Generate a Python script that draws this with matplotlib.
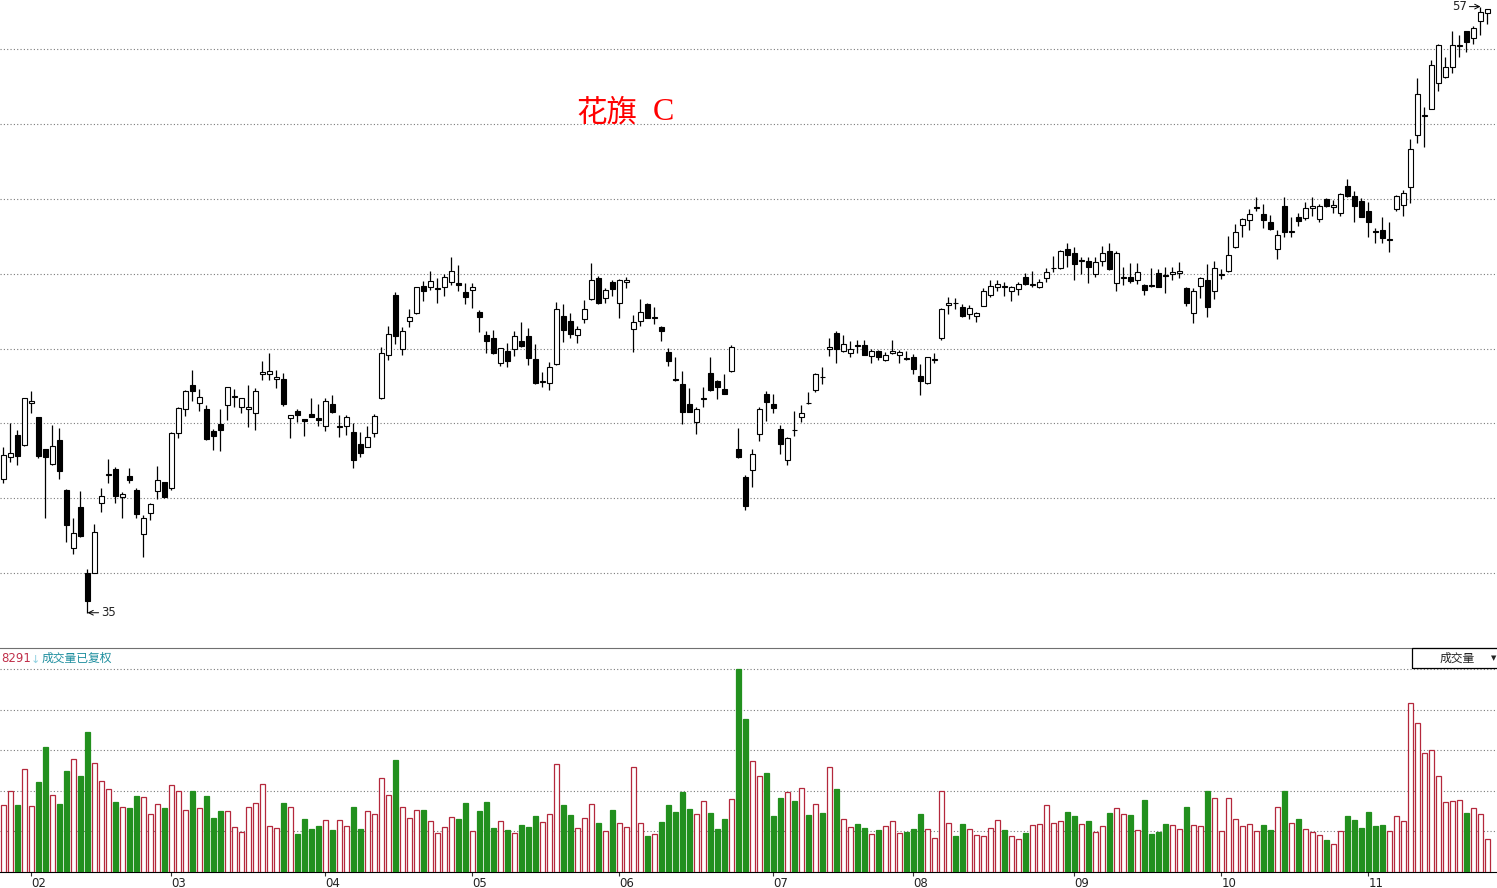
import numpy as np
import matplotlib
matplotlib.use("Agg")
import matplotlib.pyplot as plt
from matplotlib.patches import Rectangle

# daily bars, late Jan .. 25 Nov 2016 (213 sessions)
OPEN = [
    39.85, 40.64, 41.45, 41.09, 42.60, 42.10, 40.94, 40.41, 41.27, 39.47,   # 0
    37.34, 38.85, 36.45, 36.46, 38.97, 40.01, 40.22, 39.19, 39.96, 39.45,   # 10
    37.84, 38.61, 39.41, 39.73, 39.51, 41.51, 42.38, 43.27, 42.60, 42.39,   # 20
    41.60, 41.85, 42.53, 42.84, 42.48, 42.38, 42.24, 43.66, 43.66, 43.48,   # 30
    43.49, 42.06, 42.31, 42.02, 42.22, 42.07, 41.79, 42.58, 41.73, 41.79,   # 40
    41.56, 41.13, 41.03, 41.54, 42.79, 44.35, 46.54, 44.59, 45.58, 45.87,   # 50
    46.86, 46.81, 46.74, 46.81, 47.00, 46.95, 46.65, 46.71, 45.93, 45.08,   # 60
    44.96, 44.06, 44.50, 44.56, 44.87, 45.04, 44.21, 43.37, 43.33, 44.02,   # 70
    45.76, 45.59, 45.08, 45.65, 46.38, 47.14, 46.42, 47.00, 46.23, 47.00,   # 80
    45.31, 45.59, 46.21, 45.68, 45.36, 44.45, 43.49, 43.29, 42.57, 41.91,   # 90
    42.75, 43.69, 43.41, 43.11, 43.78, 40.95, 39.92, 40.18, 41.47, 42.94,   # 100
    42.57, 41.67, 40.53, 41.63, 42.11, 42.63, 43.08, 43.57, 44.58, 45.17,   # 110
    44.51, 44.41, 44.71, 44.70, 44.33, 44.49, 44.16, 44.44, 44.36, 44.24,   # 120
    44.27, 43.60, 43.35, 44.16, 44.98, 46.16, 46.25, 46.08, 45.86, 45.76,   # 130
    46.14, 46.55, 46.81, 46.85, 46.67, 46.74, 47.18, 46.91, 46.81, 47.14,   # 140
    47.50, 47.50, 48.19, 48.05, 47.76, 47.77, 47.29, 47.75, 48.13, 46.96,   # 150
    47.16, 47.18, 47.07, 46.89, 46.89, 47.32, 47.26, 47.29, 47.32, 46.78,   # 160
    45.87, 46.87, 47.08, 46.67, 47.26, 47.41, 48.27, 49.06, 49.24, 49.68,   # 170
    49.46, 49.17, 48.19, 49.77, 48.81, 49.37, 49.34, 49.68, 49.29, 50.02,   # 180
    49.71, 49.50, 50.49, 50.14, 49.94, 49.58, 48.87, 48.91, 48.53, 49.64,   # 190
    49.80, 50.44, 52.33, 53.03, 53.28, 54.22, 54.43, 54.80, 55.58, 56.11,   # 200
    55.85, 56.48, 56.77,
]
HIGH = [
    41.00, 41.87, 41.63, 42.78, 43.06, 42.10, 40.94, 41.81, 41.69, 39.49,
    38.43, 39.42, 36.59, 38.22, 39.54, 40.58, 40.28, 39.39, 40.26, 39.51,
    38.55, 38.99, 40.32, 39.76, 41.56, 42.45, 43.08, 43.80, 43.12, 42.54,
    41.66, 42.39, 43.18, 43.12, 42.79, 43.27, 43.15, 44.14, 44.42, 43.81,
    43.69, 42.19, 42.40, 42.05, 42.81, 42.57, 42.81, 42.91, 42.16, 42.16,
    41.88, 41.55, 41.76, 42.20, 44.64, 45.41, 46.63, 45.36, 46.02, 46.84,
    47.04, 47.41, 47.14, 47.30, 47.90, 47.63, 46.98, 46.98, 45.99, 45.21,
    45.27, 44.62, 44.78, 45.21, 45.57, 45.33, 44.75, 43.73, 44.09, 46.27,
    46.21, 45.87, 45.39, 46.35, 47.71, 47.23, 46.78, 47.06, 47.11, 47.18,
    45.79, 46.39, 46.23, 46.08, 45.39, 44.62, 44.30, 43.78, 43.17, 42.48,
    43.21, 44.30, 43.45, 43.67, 44.72, 41.72, 40.00, 40.94, 42.48, 43.05,
    42.94, 41.81, 41.39, 42.32, 42.54, 43.00, 43.69, 43.93, 44.96, 45.22,
    45.08, 44.87, 44.90, 44.90, 44.57, 44.53, 44.45, 44.90, 44.53, 44.51,
    44.38, 44.03, 44.29, 44.41, 46.05, 46.47, 46.43, 46.20, 46.17, 45.91,
    46.77, 47.07, 47.07, 47.02, 46.86, 47.02, 47.32, 47.42, 47.10, 47.50,
    47.95, 48.17, 48.43, 48.27, 47.93, 47.90, 47.90, 48.31, 48.43, 48.13,
    47.54, 47.69, 47.69, 46.92, 47.50, 47.47, 47.54, 47.54, 47.72, 46.81,
    46.78, 47.18, 47.66, 47.78, 47.48, 48.68, 49.11, 49.32, 49.64, 50.10,
    49.82, 49.44, 48.89, 50.10, 49.35, 49.50, 49.92, 50.08, 49.83, 50.04,
    49.98, 50.25, 50.74, 50.31, 50.04, 49.92, 48.95, 49.35, 49.17, 50.16,
    50.34, 52.19, 54.42, 53.37, 55.06, 55.64, 55.18, 56.11, 55.97, 56.13,
    56.30, 57.00, 56.90,
]
LOW = [
    39.72, 40.48, 40.36, 41.05, 42.26, 40.60, 38.43, 40.36, 39.85, 37.58,
    37.12, 37.76, 35.00, 36.43, 38.67, 39.70, 38.97, 38.43, 39.70, 38.43,
    37.03, 38.37, 39.12, 39.18, 39.45, 41.35, 42.15, 42.70, 42.32, 41.27,
    40.91, 40.88, 41.99, 42.45, 42.24, 41.75, 41.64, 43.45, 43.45, 43.15,
    42.51, 41.33, 41.94, 41.43, 42.12, 41.76, 41.58, 42.24, 41.39, 41.45,
    40.27, 40.67, 41.01, 41.39, 42.76, 44.18, 44.76, 44.36, 45.36, 45.85,
    46.32, 46.72, 46.26, 46.50, 46.88, 46.68, 46.21, 46.05, 45.18, 44.42,
    44.38, 43.97, 43.91, 44.33, 44.66, 44.01, 43.29, 43.21, 43.08, 43.99,
    44.84, 44.99, 44.78, 45.51, 46.35, 46.21, 46.26, 46.48, 45.69, 46.78,
    44.48, 45.39, 45.69, 45.48, 44.88, 43.94, 43.41, 41.85, 42.28, 41.48,
    42.46, 43.06, 42.75, 42.93, 43.73, 40.61, 38.73, 39.57, 41.24, 41.97,
    42.26, 40.76, 40.38, 41.42, 41.93, 42.59, 43.02, 43.30, 44.33, 44.07,
    44.47, 44.29, 44.44, 44.34, 44.07, 44.17, 44.15, 44.39, 44.07, 44.17,
    43.65, 42.92, 43.29, 44.05, 44.90, 45.83, 46.01, 45.74, 45.65, 45.56,
    46.13, 46.47, 46.68, 46.51, 46.33, 46.54, 46.91, 46.84, 46.77, 46.99,
    47.38, 47.47, 47.54, 47.06, 47.30, 46.96, 47.18, 47.59, 47.44, 46.66,
    46.90, 46.96, 46.92, 46.54, 46.81, 46.81, 46.60, 47.06, 47.14, 46.15,
    45.51, 46.41, 45.75, 46.38, 47.10, 47.38, 48.25, 48.63, 48.89, 49.59,
    48.95, 48.89, 47.83, 48.65, 48.65, 49.05, 49.25, 49.40, 49.19, 49.74,
    49.52, 49.41, 50.10, 49.17, 49.35, 48.65, 48.41, 48.43, 48.10, 49.59,
    49.41, 49.86, 52.04, 51.89, 53.27, 53.95, 54.42, 54.58, 55.18, 55.34,
    55.63, 55.97, 56.37,
]
CLOSE = [
    40.72, 40.80, 40.70, 42.78, 42.68, 40.70, 40.66, 41.04, 40.16, 38.20,
    37.88, 37.80, 35.44, 37.92, 39.24, 40.05, 39.25, 39.31, 39.83, 38.59,
    38.44, 38.95, 39.80, 39.21, 41.52, 42.42, 43.05, 43.06, 42.82, 41.30,
    41.43, 41.64, 43.18, 42.88, 42.79, 42.45, 43.05, 43.74, 43.77, 43.56,
    42.58, 42.17, 42.16, 41.97, 42.12, 42.01, 42.69, 42.30, 41.74, 42.09,
    40.55, 40.78, 41.37, 42.14, 44.42, 45.11, 45.06, 45.23, 45.73, 46.83,
    46.69, 47.03, 46.78, 47.18, 47.41, 46.90, 46.45, 46.81, 45.75, 44.88,
    44.44, 44.60, 44.12, 45.05, 44.68, 44.23, 43.33, 43.41, 43.91, 46.02,
    45.25, 45.11, 45.29, 46.02, 47.06, 46.26, 46.71, 46.74, 47.08, 47.08,
    45.54, 45.91, 45.71, 45.73, 45.22, 44.15, 43.43, 42.27, 42.30, 42.39,
    42.76, 43.09, 43.18, 42.95, 44.64, 40.67, 38.88, 40.75, 42.38, 42.66,
    42.44, 41.11, 41.36, 41.62, 42.24, 42.60, 43.66, 43.54, 44.63, 44.56,
    44.74, 44.56, 44.69, 44.36, 44.49, 44.27, 44.34, 44.49, 44.45, 44.20,
    43.83, 43.42, 44.27, 44.20, 46.01, 46.26, 46.23, 45.78, 46.05, 45.89,
    46.68, 46.87, 46.92, 46.81, 46.81, 46.92, 46.92, 46.92, 46.99, 47.36,
    47.53, 48.13, 48.00, 47.65, 47.78, 47.56, 47.72, 48.05, 47.47, 48.06,
    47.19, 47.04, 47.36, 46.73, 46.86, 46.84, 47.21, 47.36, 47.41, 46.23,
    46.66, 47.14, 46.11, 47.50, 47.29, 47.98, 48.83, 49.28, 49.46, 49.71,
    49.24, 48.94, 48.70, 48.83, 48.83, 49.23, 49.68, 49.76, 49.76, 49.77,
    49.80, 50.20, 50.14, 49.77, 49.37, 49.17, 48.83, 48.59, 48.56, 50.14,
    50.25, 51.84, 53.82, 53.05, 54.87, 55.61, 54.80, 55.61, 55.61, 55.70,
    56.21, 56.79, 56.90,
]
# volume, in units of one volume grid step
VOLUME = [
    1.66, 2.00, 1.65, 2.55, 1.62, 2.22, 3.08, 1.89, 1.67, 2.49,
    2.80, 2.36, 3.45, 2.69, 2.24, 2.06, 1.72, 1.60, 1.57, 1.87,
    1.84, 1.43, 1.69, 1.57, 2.16, 2.01, 1.54, 2.00, 1.57, 1.87,
    1.33, 1.51, 1.50, 1.10, 0.98, 1.61, 1.71, 2.18, 1.14, 1.08,
    1.70, 1.61, 0.93, 1.30, 1.05, 1.13, 1.28, 1.03, 1.28, 1.14,
    1.60, 1.05, 1.50, 1.42, 2.33, 1.89, 2.76, 1.61, 1.34, 1.54,
    1.52, 1.25, 0.97, 1.12, 1.37, 1.30, 1.70, 1.00, 1.50, 1.72,
    1.08, 1.25, 1.03, 0.97, 1.15, 1.10, 1.38, 1.23, 1.42, 2.66,
    1.65, 1.40, 1.08, 1.34, 1.69, 1.20, 1.00, 1.52, 1.22, 1.10,
    2.60, 1.22, 0.88, 0.95, 1.23, 1.65, 1.47, 1.97, 1.55, 1.42,
    1.76, 1.45, 1.05, 1.30, 1.81, 5.00, 3.77, 2.73, 2.38, 2.44,
    1.38, 1.82, 1.97, 1.75, 2.08, 1.40, 1.69, 1.45, 2.60, 2.06,
    1.32, 1.10, 1.18, 1.08, 0.93, 1.03, 1.14, 1.27, 0.96, 0.98,
    1.05, 1.42, 1.05, 0.85, 2.01, 1.20, 0.88, 1.18, 1.05, 0.91,
    0.88, 1.08, 1.28, 1.03, 0.88, 0.81, 0.96, 1.15, 1.18, 1.65,
    1.20, 1.25, 1.47, 1.38, 1.18, 1.25, 0.98, 1.13, 1.45, 1.57,
    1.43, 1.40, 1.03, 1.77, 0.93, 0.98, 1.18, 1.15, 1.05, 1.60,
    1.15, 1.13, 2.00, 1.82, 1.00, 1.82, 1.30, 1.13, 1.18, 1.00,
    1.15, 1.03, 1.60, 2.00, 1.20, 1.30, 1.05, 0.98, 0.91, 0.78,
    0.70, 1.00, 1.38, 1.28, 1.08, 1.47, 1.13, 1.15, 1.00, 1.38,
    1.25, 4.16, 3.67, 2.95, 3.02, 2.36, 1.72, 1.75, 1.77, 1.45,
    1.57, 1.43, 0.82,
]
MONTH_IDX = [4, 24, 46, 67, 88, 110, 130, 153, 174, 195]
MONTH_LABELS = ["02", "03", "04", "05", "06", "07", "08", "09", "10", "11"]
LOW_MARK = (12, 35.00)
HIGH_MARK = (211, 57.00)

CJK = ["Noto Sans CJK SC", "DejaVu Sans"]
RED_EDGE = "#b4283c"
GREEN = "#22901e"
GRID_KW = dict(color="#7a7a7a", linestyle=(0, (1, 2)), linewidth=0.8, zorder=0)

o = np.array(OPEN); h = np.array(HIGH); l = np.array(LOW); c = np.array(CLOSE)
v = np.array(VOLUME)
x = np.arange(len(o))
up = c >= o

W, H = 1497, 888
fig = plt.figure(figsize=(W / 100, H / 100), dpi=100)
fig.patch.set_facecolor("white")

# ---- price panel
ax = fig.add_axes([0, 1 - 648 / H, 1, 648 / H])
ax.set_xlim(-0.5, 213.36)
ax.set_ylim(33.72, 57.24)
for k in range(8):
    ax.axhline(36.44 + 2.716 * k, **GRID_KW)
ax.vlines(x, l, h, color="black", linewidth=0.9, zorder=2)
body = np.maximum(np.abs(c - o), 0.03)
ax.bar(x, body, bottom=np.minimum(o, c), width=0.64,
       color=np.where(up, "white", "black"), edgecolor="black",
       linewidth=0.8, zorder=3)
ax.axis("off")

ax.annotate("35", xy=LOW_MARK, xytext=(10, 0), textcoords="offset points",
            ha="left", va="center", fontsize=8.5, color="#222222",
            arrowprops=dict(arrowstyle="->", color="black", lw=0.7,
                            shrinkA=0, shrinkB=0))
ax.annotate("57", xy=HIGH_MARK, xytext=(-10, 0), textcoords="offset points",
            ha="right", va="center", fontsize=8.5, color="#222222",
            arrowprops=dict(arrowstyle="->", color="black", lw=0.7,
                            shrinkA=0, shrinkB=0))

# title: CJK part + serif Latin letter
fig.text(576 / W, 1 - 113 / H, "花旗", color="red", fontsize=22,
         ha="left", va="center", family=CJK)
fig.text(653 / W, 1 - 112 / H, "C", color="red", fontsize=23,
         ha="left", va="center", family="Liberation Serif")

# ---- volume panel
axv = fig.add_axes([0, 1 - 872 / H, 1, (872 - 648) / H])
axv.set_xlim(-0.5, 213.36)
axv.set_ylim(0, 5.53)
for k in range(1, 6):
    axv.axhline(k, **GRID_KW)
axv.bar(x, v, width=0.64, color=np.where(up, "white", GREEN),
        edgecolor=np.where(up, RED_EDGE, GREEN), linewidth=0.9, zorder=3)
for s in ("left", "right"):
    axv.spines[s].set_visible(False)
axv.spines["top"].set_color("#707070")
axv.spines["bottom"].set_color("black")
axv.set_yticks([])
axv.set_xticks(MONTH_IDX)
axv.set_xticklabels(MONTH_LABELS, ha="left", fontsize=8.5, color="#222222")
axv.tick_params(axis="x", length=3, width=0.8, pad=0.5, color="#333333")

fig.text(1 / W, 1 - 658 / H, "8291", color="#c0304a", fontsize=8.5,
         ha="left", va="center")
fig.text(31 / W, 1 - 660 / H, "↓", color="#8fd0e0", fontsize=8,
         ha="left", va="center")
fig.text(42 / W, 1 - 658 / H, "成交量已复权", color="#1f8f9f", fontsize=8.5,
         ha="left", va="center", family=CJK)

fig.add_artist(Rectangle((1412 / W, 1 - 668 / H), 90 / W, 20 / H,
                         transform=fig.transFigure, fill=False,
                         edgecolor="black", linewidth=0.9))
fig.text(1457 / W, 1 - 658 / H, "成交量", color="#222222", fontsize=8.5,
         ha="center", va="center", family=CJK)
fig.text(1494 / W, 1 - 658 / H, "▼", color="#222222", fontsize=5,
         ha="center", va="center")

fig.savefig("out.png", dpi=100, facecolor="white")
